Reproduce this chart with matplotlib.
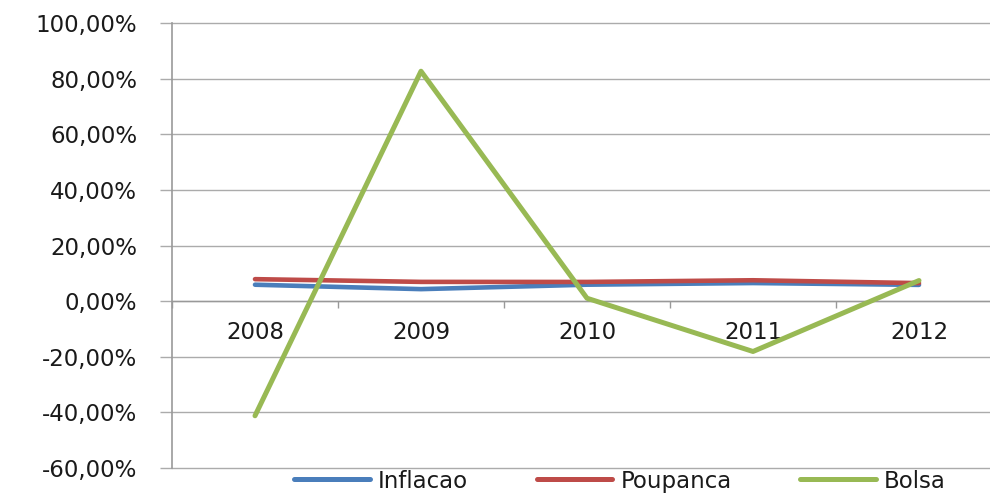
import matplotlib
matplotlib.use("Agg")
import matplotlib.pyplot as plt
from matplotlib.ticker import FuncFormatter, FixedLocator

years = ["2008", "2009", "2010", "2011", "2012"]
inflacao = [5.90, 4.31, 5.91, 6.50, 5.84]
poupanca = [7.90, 6.92, 6.90, 7.50, 6.48]
bolsa = [-41.22, 82.66, 1.04, -18.11, 7.40]
yticks = [-60, -40, -20, 0, 20, 40, 60, 80, 100]

plt.rcParams['font.family'] = ['DejaVu Sans']

W, H = 990, 494
fig = plt.figure(figsize=(W / 100, H / 100), dpi=100)
left, right, top, bottom = 172, 1002, 23, 468
ax = fig.add_axes([left / W, 1 - bottom / H, (right - left) / W, (bottom - top) / H])

x = list(range(len(years)))
ax.plot(x, inflacao, color="#4a7ebb", lw=3.3, label="Inflacao", solid_capstyle="round", zorder=3)
ax.plot(x, poupanca, color="#be4b48", lw=3.3, label="Poupanca", solid_capstyle="round", zorder=3)
ax.plot(x, bolsa, color="#98b954", lw=3.6, label="Bolsa", solid_capstyle="round", zorder=4)

ax.set_xlim(-0.5, len(years) - 0.5)
ax.set_ylim(-60, 100)
ax.set_yticks(yticks)
ax.yaxis.set_major_formatter(FuncFormatter(lambda v, p: f"{v:.2f}%".replace(".", ",")))
ax.grid(axis="y", color="#ababab", lw=1.0)
for gl in ax.get_ygridlines():
    gl.set_clip_on(False)
ax.set_axisbelow(True)

ax.set_xticks(x)
ax.set_xticklabels(years)
ax.xaxis.set_minor_locator(FixedLocator([i - 0.5 for i in range(len(years) + 1)]))
ax.tick_params(axis="x", which="major", length=0, pad=14, labelsize=16.5, labelcolor="#1a1a1a")
ax.tick_params(axis="x", which="minor", length=5, color="#999999", direction="out", width=1)
ax.tick_params(axis="y", length=8.6, color="#ababab", width=1, pad=16.5, labelsize=16.5, labelcolor="#1a1a1a")

for s in ["top", "right"]:
    ax.spines[s].set_visible(False)
ax.spines["left"].set_color("#999999")
ax.spines["left"].set_linewidth(1.2)
ax.spines["bottom"].set_position(("data", 0))
ax.spines["bottom"].set_color("#999999")
ax.spines["bottom"].set_linewidth(1.0)

leg = fig.legend(loc="center", bbox_to_anchor=(620 / W, 1 - 481 / H), ncol=3, frameon=False,
                 fontsize=16.5, handlelength=3.3, handletextpad=0.35, columnspacing=3.0,
                 labelcolor="#1a1a1a")
for ln in leg.get_lines():
    ln.set_linewidth(3.6)

fig.savefig("out.png", dpi=100)
